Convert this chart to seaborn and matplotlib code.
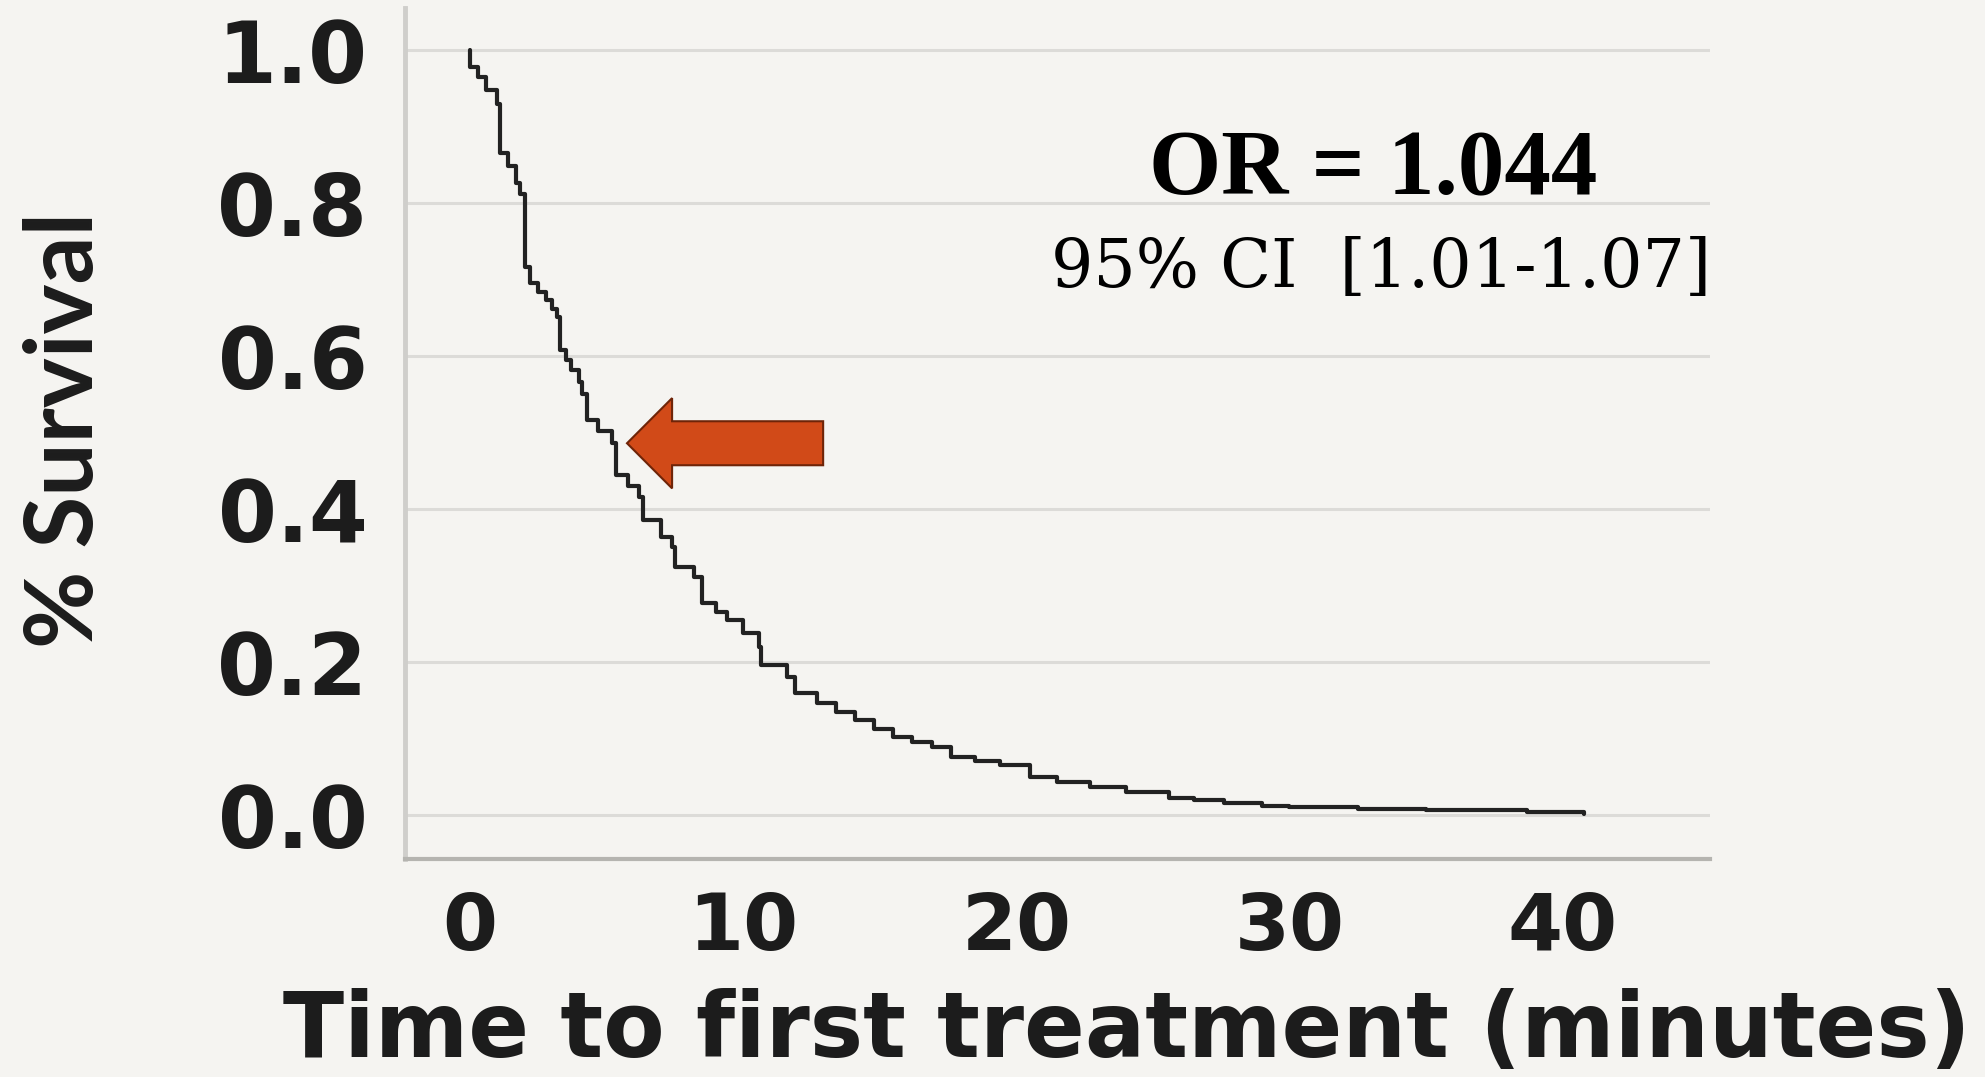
import matplotlib
matplotlib.use("Agg")
import matplotlib.pyplot as plt
import seaborn as sns
import pandas as pd
from matplotlib.patches import FancyArrow

# ---- data ----
time_min = [0, 0.02, 0.3, 0.6, 1.0, 1.1, 1.4, 1.7, 1.85, 2.0, 2.2, 2.5, 2.8, 3.0, 3.2,
            3.3, 3.5, 3.7, 4.0, 4.1, 4.3, 4.7, 5.2, 5.35, 5.8, 6.2, 6.35, 7.0, 7.4, 7.5,
            8.2, 8.5, 9.0, 9.4, 10.0, 10.6, 10.65, 11.6, 11.9, 12.7, 13.4, 14.1, 14.8,
            15.5, 16.2, 16.9, 17.6, 18.5, 19.4, 20.5, 21.5, 22.7, 24.0, 25.6, 26.5,
            27.6, 29.0, 30.0, 32.5, 35.0, 38.7, 40.8]
survival = [1.0, 0.978, 0.965, 0.948, 0.930, 0.865, 0.848, 0.826, 0.812, 0.716, 0.695,
            0.684, 0.673, 0.662, 0.651, 0.608, 0.595, 0.582, 0.566, 0.551, 0.516, 0.502,
            0.486, 0.444, 0.430, 0.416, 0.386, 0.364, 0.350, 0.324, 0.311, 0.277, 0.266,
            0.255, 0.238, 0.220, 0.196, 0.181, 0.159, 0.146, 0.135, 0.124, 0.113, 0.102,
            0.096, 0.089, 0.076, 0.070, 0.065, 0.050, 0.043, 0.037, 0.030, 0.022, 0.019,
            0.016, 0.012, 0.010, 0.008, 0.006, 0.004, 0.001]
x_ticks = [0, 10, 20, 30, 40]
y_ticks = [0.0, 0.2, 0.4, 0.6, 0.8, 1.0]
y_tick_labels = ["0.0", "0.2", "0.4", "0.6", "0.8", "1.0"]
x_label = "Time to first treatment (minutes)"
y_label = "% Survival"
or_text = "OR = 1.044"
ci_text = "95% CI  [1.01-1.07]"

df = pd.DataFrame({"time": time_min, "survival": survival})

# ---- style ----
sns.set_theme(style="white")
BG = "#f5f4f1"
plt.rcParams["font.family"] = ["DejaVu Sans"]

fig = plt.figure(figsize=(19.85, 10.77), dpi=100, facecolor=BG)
ax = fig.add_axes([0.204, 0.2024, 0.6575, 0.7902])
ax.set_facecolor(BG)

sns.lineplot(data=df, x="time", y="survival", drawstyle="steps-post",
             estimator=None, color="#222222", linewidth=3.0, ax=ax)

ax.set_xlim(-2.38, 45.4)
ax.set_ylim(-0.0575, 1.055)

ax.set_yticks(y_ticks)
ax.set_yticklabels(y_tick_labels)
ax.set_xticks(x_ticks)
ax.set_xticklabels([str(v) for v in x_ticks])

for lab in ax.get_yticklabels() + ax.get_xticklabels():
    lab.set_fontfamily("DejaVu Sans")
    lab.set_fontweight("bold")
    lab.set_color("#1c1c1c")
for lab in ax.get_yticklabels():
    lab.set_fontsize(61)
for lab in ax.get_xticklabels():
    lab.set_fontsize(57)

ax.tick_params(axis="y", length=0, pad=27)
ax.tick_params(axis="x", length=0, pad=22)

# grid only horizontal
ax.yaxis.grid(True, color="#dcdbd8", linewidth=2.2)
ax.xaxis.grid(False)
ax.set_axisbelow(True)

for s in ["top", "right"]:
    ax.spines[s].set_visible(False)
ax.spines["left"].set_color("#cfcecb")
ax.spines["left"].set_linewidth(3.5)
ax.spines["bottom"].set_color("#b5b4b0")
ax.spines["bottom"].set_linewidth(3.0)

ax.set_xlabel(x_label, fontsize=64.5, fontweight="bold", color="#1c1c1c",
              fontfamily="DejaVu Sans", va="center")
ax.xaxis.set_label_coords(0.553, -0.203)
ax.set_ylabel(y_label, fontsize=68, fontweight="bold", color="#1c1c1c",
              fontfamily="Lato", va="center")
ax.yaxis.set_label_coords(-0.26, 0.504)

# annotation texts
fig.text(0.692, 0.840, or_text, ha="center", va="center", fontsize=67,
         fontweight="bold", family=["Liberation Serif"], color="black")
fig.text(0.696, 0.751, ci_text, ha="center", va="center", fontsize=48,
         family=["DejaVu Serif"], color="black")

# arrow pointing at the curve
arrow = FancyArrow(12.93, 0.486, -7.18, 0.0, width=0.0575, head_width=0.118,
                   head_length=1.65, length_includes_head=True,
                   facecolor="#d14a18", edgecolor="#6e2408", linewidth=1.5, zorder=5)
ax.add_patch(arrow)

fig.savefig("out.png", dpi=100, facecolor=BG)
